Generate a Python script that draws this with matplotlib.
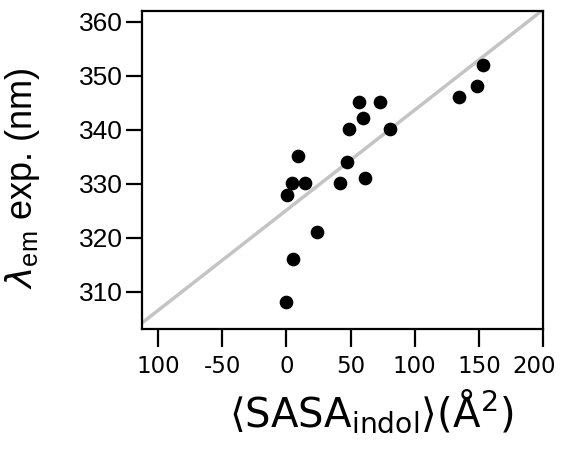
import numpy as np
import matplotlib
matplotlib.use('Agg')
import matplotlib.pyplot as plt
from matplotlib.transforms import ScaledTranslation

# data
sasa = [153.5, 148.4, 134.6, 56.9, 73.0, 59.5, 48.9, 80.8, 9.4, 47.1, 4.2, 14.6, 41.9, 61.3, 0.8, 23.7, 5.5, 0.0]
lam_em = [352, 348.2, 346.1, 345.2, 345.2, 342.1, 340.1, 340.1, 335.2, 334.1, 330.2, 330.1, 330.1, 331.1, 328, 321.1, 316.1, 308.1]

# fit line
slope = 0.1856
intercept = 325.1

xticks = [-100, -50, 0, 50, 100, 150, 200]
xticklabels = ['100', '-50', '0', '50', '100', '150', '200']
yticks = [310, 320, 330, 340, 350, 360]

fig = plt.figure(figsize=(5.61, 4.51), dpi=100)
ax = fig.add_axes([0.2531, 0.2705, 0.7148, 0.7051])

xl = np.array([-112.5, 200])
ax.plot(xl, intercept + slope * xl, color='#c4c4c4', lw=2.5, zorder=1)
ax.scatter(sasa, lam_em, s=78, color='black', zorder=2)

ax.set_xlim(-112.5, 200)
ax.set_ylim(303.1, 362.0)

ax.set_xticks(xticks)
ax.set_xticklabels(xticklabels, fontsize=16.5, family='DejaVu Sans')
ax.set_yticks(yticks)
ax.set_yticklabels([str(t) for t in yticks], fontsize=19, family='Liberation Sans')
ax.tick_params(axis='x', length=13, width=1.6, pad=6)
ax.tick_params(axis='y', length=11.5, width=1.6, pad=2)
for sp in ax.spines.values():
    sp.set_linewidth(1.6)

# last label sits a bit left of its tick, as in the original
lbl = ax.get_xticklabels()[-1]
lbl.set_transform(lbl.get_transform() + ScaledTranslation(-0.09, 0, fig.dpi_scale_trans))

ax.set_xlabel(r'$\langle$SASA$_{\mathregular{indol}}\rangle$(Å$^{2}$)', fontsize=29, family='DejaVu Sans')
ax.xaxis.set_label_coords(0.571, -0.185)
ax.set_ylabel(r'$\lambda_{\mathregular{em}}$ exp. (nm)', fontsize=26, family='Liberation Sans')
ax.yaxis.set_label_coords(-0.25, 0.475)

fig.savefig('out.png', dpi=100)
